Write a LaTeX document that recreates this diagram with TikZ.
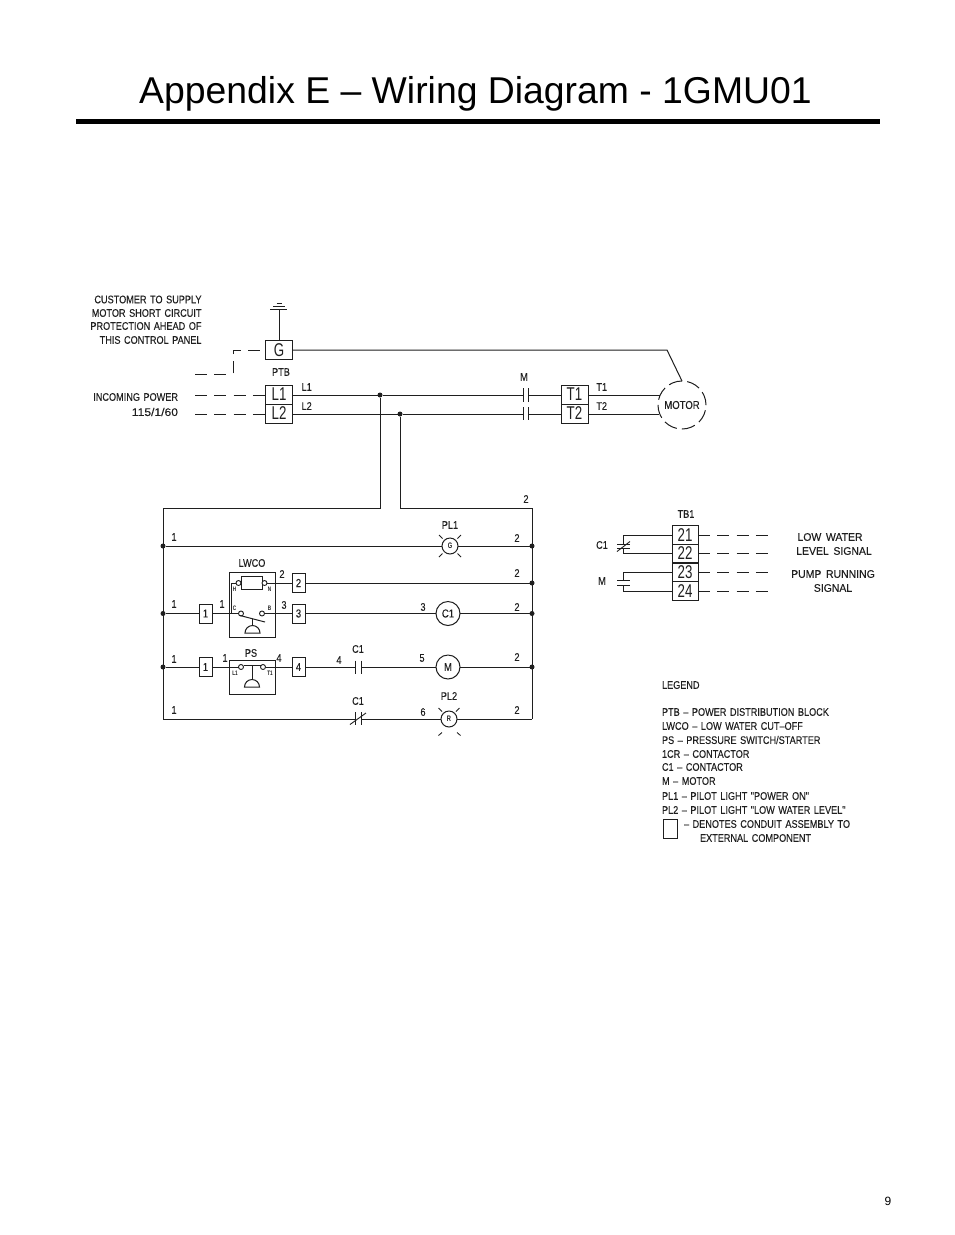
\documentclass[tikz,border=0pt]{standalone}
\usepackage{fontspec}
\setmainfont{Liberation Sans}
\newfontfamily\cad[FakeStretch=0.83,WordSpace=1.4,FakeBold=0.1]{Liberation Sans}
\newfontfamily\cadw[FakeStretch=0.95,WordSpace=1.6,FakeBold=0.1]{Liberation Sans}
\newfontfamily\cadn[FakeStretch=1.1,FakeBold=0.1]{Liberation Sans}
\newfontfamily\cadb[FakeStretch=0.72]{Liberation Sans}
\definecolor{ink}{gray}{0.12}
\tikzset{
 wire/.style={line width=1pt,draw=ink},
 dashwire/.style={wire,dash pattern=on 12pt off 7.33pt},
 cadt/.style={inner sep=0pt,outer sep=0pt,text=ink,font=\cad\fontsize{11}{12}\selectfont},
 cadl/.style={cadt,anchor=west},
 cadr/.style={cadt,anchor=east},
 sig/.style={cadt,font=\cadw\fontsize{11}{12}\selectfont},
 tiny/.style={cadt,font=\cadb\fontsize{6.5}{7}\selectfont\bfseries},
 tb/.style={draw=ink,line width=1pt,inner sep=0pt,outer sep=0pt,minimum width=27pt,minimum height=19pt,text=ink,font=\cadb\fontsize{18.5}{19}\selectfont},
 ext/.style={draw=ink,line width=1pt,inner sep=0pt,outer sep=0pt,minimum width=13pt,minimum height=19pt,text=ink,font=\cad\fontsize{11.5}{12}\selectfont},
 panel/.style={draw=ink,line width=1pt,inner sep=0pt,outer sep=0pt,minimum width=46pt},
 dot/.style={circle,fill=ink,inner sep=0pt,outer sep=0pt,minimum size=5pt},
 term/.style={circle,draw=ink,line width=0.9pt,fill=white,inner sep=0pt,outer sep=0pt,minimum size=5pt},
 coil/.style={circle,draw=ink,line width=1pt,inner sep=0pt,outer sep=0pt,minimum size=24pt,text=ink,font=\cad\fontsize{11.5}{12}\selectfont},
 lamp/.style={circle,draw=ink,line width=1pt,inner sep=0pt,outer sep=0pt,minimum size=16pt,text=ink,font=\cadb\fontsize{8}{8}\selectfont\bfseries},
 ray/.style={line width=0.85pt,draw=ink},
}
\newcommand{\lab}[5][cadt]{\node[#1] (#2) at (#3,#4) {#5};}
\begin{document}
\begin{tikzpicture}[x=1pt,y=-1pt]
\useasboundingbox (0,0) rectangle (954,1235);
% heading
\node[inner sep=0pt,font=\fontsize{37.35}{38}\selectfont,text=black] (title) at (475.5,94) {Appendix E – Wiring Diagram - 1GMU01};
\node[fill=black,inner sep=0pt,minimum width=804pt,minimum height=5pt] (rule) at (478,121) {};
\node[inner sep=0pt,font=\fontsize{12}{12}\selectfont] (page) at (888,1201) {9};
% notes
\lab[cadr]{n1}{201.5}{299.5}{CUSTOMER TO SUPPLY}
\lab[cadr]{n2}{201.5}{313}{MOTOR SHORT CIRCUIT}
\lab[cadr]{n3}{201.5}{326}{PROTECTION AHEAD OF}
\lab[cadr]{n4}{201.5}{340}{THIS CONTROL PANEL}
\lab[cadr]{n5}{178}{397}{INCOMING POWER}
\node[cadr,font=\cadn\fontsize{11}{12}\selectfont] (n6) at (178,412) {115/1/60};
% terminal blocks
\node[tb] (G) at (279,350) {G};
\node[tb] (L1) at (279,394.5) {L1};
\node[tb] (L2) at (279,413.5) {L2};
\node[tb] (T1) at (574.5,394.5) {T1};
\node[tb] (T2) at (574.5,413.5) {T2};
\lab{ptb}{281}{372}{PTB}
\lab{tl1}{306.7}{387}{L1}
\lab{tl2}{306.7}{406}{L2}
\lab{tm}{524}{377}{M}
\lab{tt1}{601.7}{387}{T1}
\lab{tt2}{601.7}{406}{T2}
% ground
\coordinate (gnd) at (279,309);
\draw[wire] (G.north) -- (gnd);
\draw[wire,line width=0.9pt] (270,309) -- (287,309) (273,306) -- (285,306) (276.5,303) -- (282,303);
% incoming dashed
\coordinate (da) at (233,350); \coordinate (db) at (233,374); \coordinate (dc) at (195,374);
\coordinate (dl1) at (195,395); \coordinate (dl2) at (195,414);
\draw[dashwire] (dc) -- (db) -- (da) -- (G.west);
\draw[dashwire] (dl1) -- (L1.west |- dl1);
\draw[dashwire] (dl2) -- (L2.west |- dl2);
% motor
\node[circle,draw=ink,line width=1pt,dash pattern=on 13.6pt off 5.2pt,minimum size=48pt,inner sep=0pt,text=ink,font=\cad\fontsize{11.5}{12}\selectfont] (motor) at (682,405) {MOTOR};
\coordinate (kink) at (667,350); \coordinate (mtop) at (682,381);
\draw[wire] (G.east) -- (kink) -- (mtop);
% power lines
\node[dot] (j1) at (380,395) {};
\node[dot] (j2) at (400,414) {};
\coordinate (ma1) at (523,395); \coordinate (mb1) at (528,395);
\coordinate (ma2) at (523,414); \coordinate (mb2) at (528,414);
\coordinate (m1e) at (660,395); \coordinate (m2e) at (659,414);
\draw[wire] (L1.east |- j1) -- (j1) -- (ma1);
\draw[wire] (L2.east |- j2) -- (j2) -- (ma2);
\draw[wire] (mb1) -- (T1.west |- mb1);
\draw[wire] (mb2) -- (T2.west |- mb2);
\draw[wire] (T1.east |- m1e) -- (m1e);
\draw[wire] (T2.east |- m2e) -- (m2e);
\draw[wire] (523,388) -- (523,402) (528,388) -- (528,402) (523,407) -- (523,420) (528,407) -- (528,420);
% control frame
\coordinate (fa) at (380,508); \coordinate (fb) at (163,508); \coordinate (fc) at (163,719);
\coordinate (fd) at (400,508); \coordinate (fe) at (532,508); \coordinate (ff) at (532,719);
\draw[wire] (j1) -- (fa) -- (fb) -- (fc);
\draw[wire] (j2) -- (fd) -- (fe) -- (ff);
\node[dot] (la) at (163,546) {}; \node[dot] (lb) at (163,613.5) {}; \node[dot] (lc) at (163,667) {};
\node[dot] (ra) at (532,546) {}; \node[dot] (rb) at (532,583) {}; \node[dot] (rc) at (532,613.5) {}; \node[dot] (rd) at (532,667) {};
\lab{top2}{526}{499}{2}
% rung 1
\node[lamp] (pl1) at (450,546) {G};
\draw[wire] (la) -- (pl1.west) (pl1.east) -- (ra);
\draw[ray] (439,535) -- (442.5,538.5) (461,535) -- (457.5,538.5) (439,557) -- (442.5,553.5) (461,557) -- (457.5,553.5);
\lab{tpl1}{450}{525}{PL1}
\lab{r1a}{174}{537}{1}
\lab{r1b}{517}{538}{2}
% LWCO
\node[panel,minimum height=65pt] (lw) at (252,604.5) {};
\node[ext] (x1) at (205.5,613.5) {1};
\node[ext] (x2) at (298.5,583) {2};
\node[ext] (x3) at (298.5,613.5) {3};
\node[draw=ink,line width=1pt,inner sep=0pt,minimum width=21pt,minimum height=13pt] (tmr) at (251.5,582.5) {};
\node[term] (th) at (238.5,583) {};
\node[term] (tn) at (264.5,583) {};
\node[term] (tc) at (241,613.5) {};
\node[term] (tbb) at (262,613.5) {};
\coordinate (hc) at (231.5,583); \coordinate (hd) at (231.5,613.5);
\draw[wire] (th) -- (hc) -- (hd);
\draw[wire] (tn) -- (x2.west);
\draw[wire] (x2.east) -- (rb);
\draw[wire] (lb) -- (x1.west);
\draw[wire] (x1.east) -- (tc);
\draw[wire] (tbb) -- (x3.west);
\node[coil] (c1) at (448,613.5) {C1};
\draw[wire] (x3.east) -- (c1.west);
\draw[wire] (c1.east) -- (rc);
\draw[wire] (240,615.5) -- (265,622);
\draw[wire] (252,619) -- (252,626);
\draw[wire] (245,633) arc[start angle=180,end angle=360,radius=7.5] -- cycle;
\node[tiny] (lh) at (234.5,589.5) {H};
\node[tiny] (ln) at (269.5,589.5) {N};
\node[tiny] (lcc) at (234.5,608.5) {C};
\node[tiny] (lbb) at (269.5,608.5) {B};
\lab{tlw}{252}{563}{LWCO}
\lab{r2a}{282}{574}{2}
\lab{r2b}{517}{573}{2}
\lab{r3a}{174}{604}{1}
\lab{r3b}{222}{604}{1}
\lab{r3c}{284}{605}{3}
\lab{r3d}{423}{607}{3}
\lab{r3e}{517}{607}{2}
% PS
\node[panel,minimum height=34pt] (ps) at (252,677) {};
\node[ext] (y1) at (205.5,667) {1};
\node[ext] (y4) at (298.5,667) {4};
\node[term] (tl) at (241,667) {};
\node[term] (tt) at (263,667) {};
\draw[wire] (lc) -- (y1.west);
\draw[wire] (y1.east) -- (tl);
\draw[wire] (tt) -- (y4.west);
\coordinate (ca) at (355,667); \coordinate (cb) at (361,667);
\draw[wire] (y4.east) -- (ca);
\draw[wire] (355,660.5) -- (355,674) (361,660.5) -- (361,674);
\node[coil] (mm) at (448,667) {M};
\draw[wire] (cb) -- (mm.west);
\draw[wire] (mm.east) -- (rd);
\draw[wire] (243.5,665) -- (260.5,665);
\draw[wire] (252,665) -- (252,679);
\draw[wire] (244.5,687) arc[start angle=180,end angle=360,radius=7.5] -- cycle;
\node[tiny] (ll1) at (235,673) {L1};
\node[tiny] (lt1) at (270,673) {T1};
\lab{tps}{251}{653}{PS}
\lab{r4a}{174}{659}{1}
\lab{r4b}{225}{658}{1}
\lab{r4c}{279}{658}{4}
\lab{r4d}{339}{660}{4}
\lab{r4e}{358}{649}{C1}
\lab{r4f}{422}{658}{5}
\lab{r4g}{517}{657}{2}
% last rung
\node[lamp] (pl2) at (449,719) {R};
\coordinate (ea) at (355,719); \coordinate (eb) at (361,719);
\draw[wire] (fc) -- (ea);
\draw[wire] (eb) -- (pl2.west);
\draw[wire] (pl2.east) -- (ff);
\draw[wire] (355,712) -- (355,725) (361,712) -- (361,725);
\draw[wire,line width=0.9pt] (350,724.5) -- (366,713);
\draw[ray] (438.5,708) -- (442,711.5) (459.5,708) -- (456,711.5) (438.5,735.5) -- (442,732.5) (460.5,735.5) -- (457,732.5);
\lab{r5a}{174}{710}{1}
\lab{r5b}{358}{701}{C1}
\lab{r5c}{423}{712}{6}
\lab{r5d}{517}{710}{2}
\lab{tpl2}{449}{696}{PL2}
% TB1
\node[tb,minimum width=26pt,minimum height=18.5pt] (t21) at (685,535) {21};
\node[tb,minimum width=26pt,minimum height=18.5pt] (t22) at (685,553.5) {22};
\node[tb,minimum width=26pt,minimum height=18.5pt] (t23) at (685,572.5) {23};
\node[tb,minimum width=26pt,minimum height=18.5pt] (t24) at (685,591) {24};
\lab{ttb}{686}{514}{TB1}
\coordinate (d21) at (772,535); \coordinate (d22) at (772,553.5); \coordinate (d23) at (772,572.5); \coordinate (d24) at (772,591);
\draw[dashwire] (t21.east) -- (d21);
\draw[dashwire] (t22.east) -- (d22);
\draw[dashwire] (t23.east) -- (d23);
\draw[dashwire] (t24.east) -- (d24);
\coordinate (k1) at (623,535); \coordinate (k2) at (623,544); \coordinate (k3) at (623,548); \coordinate (k4) at (623,553.5);
\draw[wire] (t21.west) -- (k1) -- (k2);
\draw[wire] (t22.west) -- (k4) -- (k3);
\draw[wire] (617,544) -- (630,544) (617,548) -- (630,548);
\draw[wire,line width=0.9pt] (617,551.5) -- (630,541.5);
\coordinate (q1) at (623,572.5); \coordinate (q2) at (623,580); \coordinate (q3) at (623,585); \coordinate (q4) at (623,591);
\draw[wire] (t23.west) -- (q1) -- (q2);
\draw[wire] (t24.west) -- (q4) -- (q3);
\draw[wire] (617,580) -- (630,580) (617,585) -- (630,585);
\lab{tc1}{602}{545}{C1}
\lab{tmm}{602}{581}{M}
\lab[sig]{s1}{830}{537}{LOW WATER}
\lab[sig]{s2}{834}{551}{LEVEL SIGNAL}
\lab[sig]{s3}{833}{574}{PUMP RUNNING}
\lab[sig]{s4}{833}{588}{SIGNAL}
% legend
\lab[cadl]{g0}{662}{685}{LEGEND}
\lab[cadl]{g1}{662}{712}{PTB – POWER DISTRIBUTION BLOCK}
\lab[cadl]{g2}{662}{726}{LWCO – LOW WATER CUT–OFF}
\lab[cadl]{g3}{662}{740}{PS – PRESSURE SWITCH/STARTER}
\lab[cadl]{g4}{662}{754}{1CR – CONTACTOR}
\lab[cadl]{g5}{662}{767}{C1 – CONTACTOR}
\lab[cadl]{g6}{662}{781}{M – MOTOR}
\lab[cadl]{g7}{662}{796}{PL1 – PILOT LIGHT "POWER ON"}
\lab[cadl]{g8}{662}{810}{PL2 – PILOT LIGHT "LOW WATER LEVEL"}
\node[draw=ink,line width=1pt,inner sep=0pt,minimum width=14pt,minimum height=19pt] (gbox) at (670,829) {};
\lab[cadl]{g9}{684}{824}{– DENOTES CONDUIT ASSEMBLY TO}
\lab[cadl]{g10}{700}{838}{EXTERNAL COMPONENT}
\end{tikzpicture}
\end{document}
